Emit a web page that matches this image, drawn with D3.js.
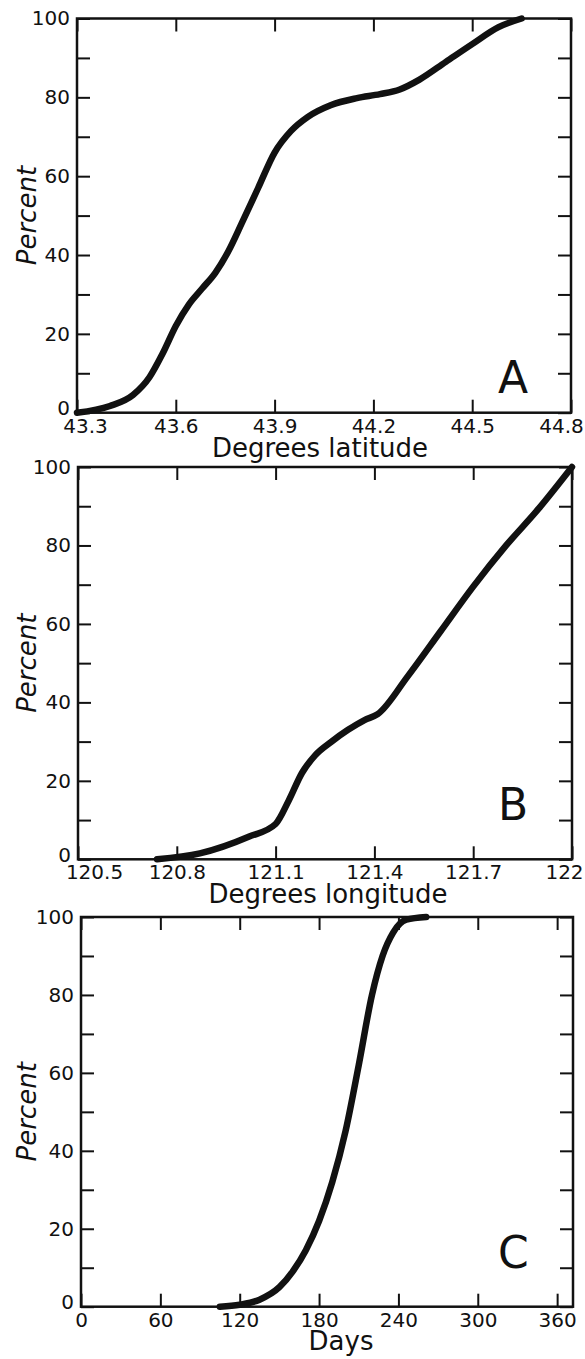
<!DOCTYPE html>
<html>
<head>
<meta charset="utf-8">
<script src="https://cdn.jsdelivr.net/npm/d3@7"></script>
<style>
  body { margin: 0; background: #fff; }
  svg { display: block; }
  .tick text { font-family: "DejaVu Sans", sans-serif; font-size: 20px; fill: #111; }
  .tick line { stroke: #111; stroke-width: 2; }
  .frame { fill: none; stroke: #111; stroke-width: 2.5; }
  .curve { fill: none; stroke: #111; stroke-width: 6.5; stroke-linejoin: round; stroke-linecap: round; }
  .title { font-family: "DejaVu Sans", sans-serif; font-size: 26px; fill: #111; }
  .ylab { font-family: "DejaVu Sans", sans-serif; font-style: italic; font-size: 26px; fill: #111; }
  .letter { font-family: "DejaVu Sans", sans-serif; font-size: 44px; fill: #111; }
</style>
</head>
<body>
<svg id="chart" width="585" height="1359"></svg>
<script>
// values
let latValues = [43.3, 43.4, 43.47, 43.52, 43.56, 43.6, 43.64, 43.68, 43.72, 43.76, 43.8, 43.85, 43.9, 43.95, 44.0, 44.07, 44.15, 44.22, 44.28, 44.34, 44.42, 44.5, 44.58, 44.65]
let latPercent = [0, 1.7, 4.5, 9, 15, 22, 27.5, 31.5, 35.5, 41, 48, 57, 66, 71.5, 75, 78, 79.8, 80.8, 82, 84.5, 89, 93.5, 97.8, 100]

let lonValues = [120.74, 120.87, 121.02, 121.1, 121.14, 121.18, 121.22, 121.27, 121.32, 121.37, 121.41, 121.5, 121.6, 121.7, 121.8, 121.9, 122]
let lonPercent = [0, 1.5, 5.8, 9, 15, 22, 26.5, 30, 33, 35.5, 37, 46.5, 58, 69.5, 80, 89.5, 100]

let dayValues = [105, 120, 135, 150, 160, 170, 180, 190, 200, 210, 220, 228, 236, 246, 261]
let dayPercent = [0, 0.5, 1.8, 5, 9, 14.5, 22, 32, 45, 62, 80, 90, 96, 99.3, 100]

let latTicks = [43.3, 43.6, 43.9, 44.2, 44.5, 44.8]
let latLabels = ["43.3", "43.6", "43.9", "44.2", "44.5", "44.8"]
let lonTicks = [120.5, 120.8, 121.1, 121.4, 121.7, 122]
let lonLabels = ["120.5", "120.8", "121.1", "121.4", "121.7", "122"]
let dayTicks = [0, 60, 120, 180, 240, 300, 360]
let dayLabels = ["0", "60", "120", "180", "240", "300", "360"]
let percentTicks = [0, 10, 20, 30, 40, 50, 60, 70, 80, 90, 100]

let panels = [
    {letter: "A", xs: latValues, ys: latPercent, domain: [43.3, 44.8], ticks: latTicks, labels: latLabels,
     title: "Degrees latitude", box: {l: 77, r: 571, t: 18.5, b: 412.7}, titleX: 320, titleDy: 44,
     firstShift: 8, lastShift: -10, letterDy: -20},
    {letter: "B", xs: lonValues, ys: lonPercent, domain: [120.5, 122], ticks: lonTicks, labels: lonLabels,
     title: "Degrees longitude", box: {l: 78, r: 572, t: 467, b: 859.3}, titleX: 328, titleDy: 44,
     firstShift: 16, lastShift: -8, letterDy: -39},
    {letter: "C", xs: dayValues, ys: dayPercent, domain: [0, 372], ticks: dayTicks, labels: dayLabels,
     title: "Days", box: {l: 81, r: 573, t: 917, b: 1306.7}, titleX: 341, titleDy: 43,
     firstShift: 0, lastShift: 0, letterDy: -39}
]

let svg = d3.select('#chart')

panels.forEach(p => {
    let b = p.box
    let x = d3.scaleLinear().domain(p.domain).range([b.l, b.r])
    let y = d3.scaleLinear().domain([0, 100]).range([b.b, b.t])
    let g = svg.append('g')
    let last = p.ticks.length - 1

    // inward ticks on all four sides
    g.append('g')
        .attr('transform', `translate(${b.l},0)`)
        .call(d3.axisLeft(y).tickValues(percentTicks).tickSize(-13).tickPadding(7)
            .tickFormat(d => d % 20 === 0 ? d : ''))
        .call(a => a.select('.domain').remove())
        .call(a => a.selectAll('.tick text').attr('dy', d => d === 0 ? '0.1em' : '0.32em'))

    g.append('g')
        .attr('transform', `translate(${b.r},0)`)
        .call(d3.axisRight(y).tickValues(percentTicks).tickSize(-13).tickFormat(''))
        .call(a => a.select('.domain').remove())

    g.append('g')
        .attr('transform', `translate(0,${b.t})`)
        .call(d3.axisTop(x).tickValues(p.ticks).tickSize(-13).tickFormat(''))
        .call(a => a.select('.domain').remove())

    g.append('g')
        .attr('transform', `translate(0,${b.b})`)
        .call(d3.axisBottom(x).tickValues(p.ticks).tickSize(-13).tickPadding(6)
            .tickFormat((d, i) => p.labels[i]))
        .call(a => a.select('.domain').remove())
        .call(a => a.selectAll('.tick text')
            .attr('dx', (d, i) => i === 0 ? p.firstShift : i === last ? p.lastShift : 0))

    g.append('rect')
        .attr('class', 'frame')
        .attr('x', b.l).attr('y', b.t)
        .attr('width', b.r - b.l).attr('height', b.b - b.t)

    let line = d3.line()
        .x(d => x(d[0]))
        .y(d => y(d[1]))
        .curve(d3.curveMonotoneX)

    g.append('path')
        .attr('class', 'curve')
        .attr('d', line(p.xs.map((v, i) => [v, p.ys[i]])))

    g.append('text')
        .attr('class', 'title')
        .attr('x', p.titleX).attr('y', b.b + p.titleDy)
        .attr('text-anchor', 'middle')
        .text(p.title)

    g.append('text')
        .attr('class', 'ylab')
        .attr('transform', `translate(36,${(b.t + b.b) / 2}) rotate(-90)`)
        .attr('text-anchor', 'middle')
        .text('Percent')

    g.append('text')
        .attr('class', 'letter')
        .attr('x', 498).attr('y', b.b + p.letterDy)
        .text(p.letter)
})
</script>
</body>
</html>
